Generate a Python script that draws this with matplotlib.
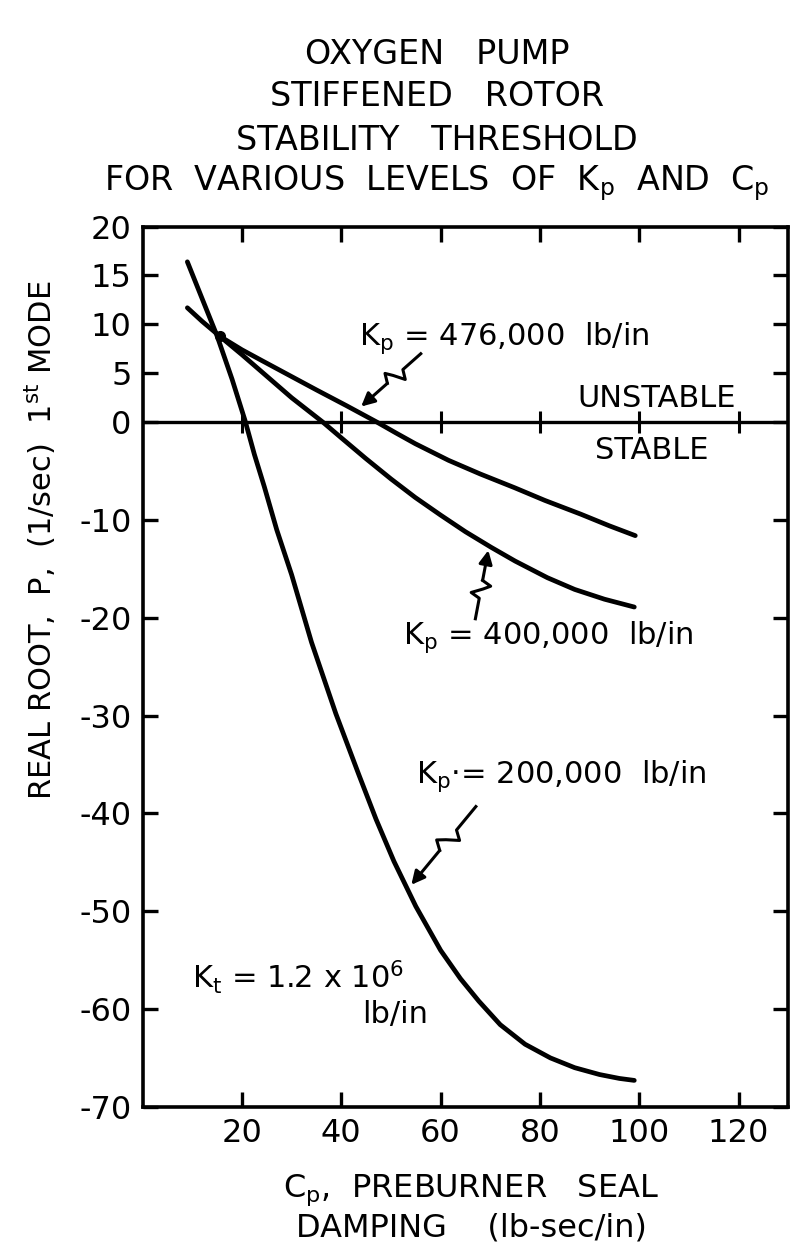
import matplotlib
matplotlib.use('Agg')
import matplotlib.pyplot as plt
import numpy as np

# C_p (lb-sec/in) and real root P (1/sec)
cp_200 = [9.0, 12.0, 15.0, 18.0, 20.6, 22.5, 24.5, 27.0, 30.0, 34.0, 38.9, 43.5, 47.0, 50.6,
          55.0, 60.0, 64.0, 67.7, 72.0, 77.0, 82.1, 87.0, 92.0, 96.0, 99.0]
p_200 = [16.4, 12.6, 8.8, 4.4, 0.2, -3.3, -6.6, -11.0, -15.6, -22.5, -29.8, -36.0, -40.6, -44.9,
         -49.5, -54.0, -56.9, -59.2, -61.6, -63.6, -65.0, -66.0, -66.7, -67.1, -67.3]

cp_400 = [9.0, 12.0, 15.5, 20.0, 25.0, 30.0, 36.3, 40.0, 44.9, 50.0, 54.9, 60.0, 65.0, 70.2,
          75.0, 81.5, 87.0, 93.0, 99.0]
p_400 = [11.7, 10.3, 8.8, 6.9, 4.7, 2.5, 0.0, -1.6, -3.7, -5.8, -7.7, -9.5, -11.2, -12.8,
         -14.2, -15.9, -17.1, -18.1, -18.9]

cp_476 = [15.5, 20.0, 24.0, 28.4, 35.0, 41.0, 47.2, 51.0, 54.9, 61.6, 68.0, 74.9, 81.0, 88.2,
          94.0, 99.2]
p_476 = [8.8, 7.4, 6.3, 5.1, 3.3, 1.7, 0.0, -1.1, -2.2, -3.9, -5.3, -6.7, -8.0, -9.4,
         -10.6, -11.6]

xticks = [20, 40, 60, 80, 100, 120]
yticks = [20, 15, 10, 5, 0, -10, -20, -30, -40, -50, -60, -70]

plt.rcParams['font.family'] = 'DejaVu Sans'
plt.rcParams['mathtext.default'] = 'regular'
plt.rcParams['axes.unicode_minus'] = False

fig = plt.figure(figsize=(7.97, 12.45), dpi=100)
ax = fig.add_axes([0.179, 0.111, 0.81, 0.707])

for cp, p in [(cp_200, p_200), (cp_400, p_400), (cp_476, p_476)]:
    ax.plot(cp, p, color='black', lw=3.4, solid_joinstyle='round', solid_capstyle='round')
ax.plot([cp_476[0]], [p_476[0]], 'o', color='black', ms=7)

# stability line with its own small ticks
ax.axhline(0, color='black', lw=2.4)
ax.plot(xticks, [0] * len(xticks), '|', color='black', ms=16, mew=2.2)

ax.set_xlim(0, 130)
ax.set_ylim(-70, 20)
ax.set_xticks(xticks)
ax.set_yticks(yticks)
ax.tick_params(direction='in', length=11, width=2.4, labelsize=23, pad=8,
               top=True, right=True)
for s in ax.spines.values():
    s.set_linewidth(2.6)

fs = 22
ax.text(43.6, 8.6, r'$K_p$ = 476,000  lb/in', fontsize=fs, va='center')
ax.text(119.5, 2.4, 'UNSTABLE', fontsize=fs, ha='right', va='center')
ax.text(102.5, -2.9, 'STABLE', fontsize=fs, ha='center', va='center')
ax.text(52.5, -22.0, r'$K_p$ = 400,000  lb/in', fontsize=fs, va='center')
ax.text(55.0, -36.2, r'$K_p$$\cdot$= 200,000  lb/in', fontsize=fs, va='center')
ax.text(10.0, -56.7, r'$K_t$ = 1.2 x 10$^6$', fontsize=fs, va='center')
ax.text(57.5, -60.6, 'lb/in', fontsize=fs, ha='right', va='center')


def squiggle(tail, tip):
    # lightning-style leader drawn in pixel space: straight, zigzag, straight, arrow head
    to_px = ax.transData.transform
    p0 = to_px(tail)
    p1 = to_px(tip)
    d = p1 - p0
    L = np.hypot(*d)
    u = d / L
    n = np.array([-u[1], u[0]])
    pts = [p0,
           p0 + 0.30 * d,
           p0 + 0.36 * d + 9 * n,
           p0 + 0.44 * d - 2 * n,
           p0 + 0.50 * d - 9 * n,
           p0 + 0.56 * d]
    pts = ax.transData.inverted().transform(np.array(pts))
    ax.plot(pts[:, 0], pts[:, 1], color='black', lw=2.2, solid_joinstyle='round')
    ax.annotate('', xy=tip, xytext=tuple(pts[-1]),
                arrowprops=dict(arrowstyle='-|>', color='black', lw=2.2,
                                mutation_scale=20, shrinkA=0, shrinkB=0))


squiggle((56.0, 7.0), (44.0, 1.6))
squiggle((67.0, -20.1), (69.6, -13.1))
squiggle((67.1, -39.3), (54.1, -47.3))

title = ['OXYGEN   PUMP', 'STIFFENED   ROTOR', 'STABILITY   THRESHOLD',
         r'FOR  VARIOUS  LEVELS  OF  $K_p$  AND  $C_p$']
for i, line in enumerate(title):
    fig.text(437 / 797, 1 - (54 + 43 * i) / 1245, line, fontsize=24,
             ha='center', va='center')

fig.text(40 / 797, 1 - 540 / 1245, r'REAL ROOT,  P,  (1/sec)  1$^{st}$ MODE',
         fontsize=22, rotation=90, ha='center', va='center')
fig.text(471 / 797, 1 - 1190 / 1245, r'$C_p$,  PREBURNER   SEAL', fontsize=23,
         ha='center', va='center')
fig.text(471 / 797, 1 - 1228 / 1245, 'DAMPING    (lb-sec/in)', fontsize=23,
         ha='center', va='center')

fig.savefig('out.png', dpi=100)
